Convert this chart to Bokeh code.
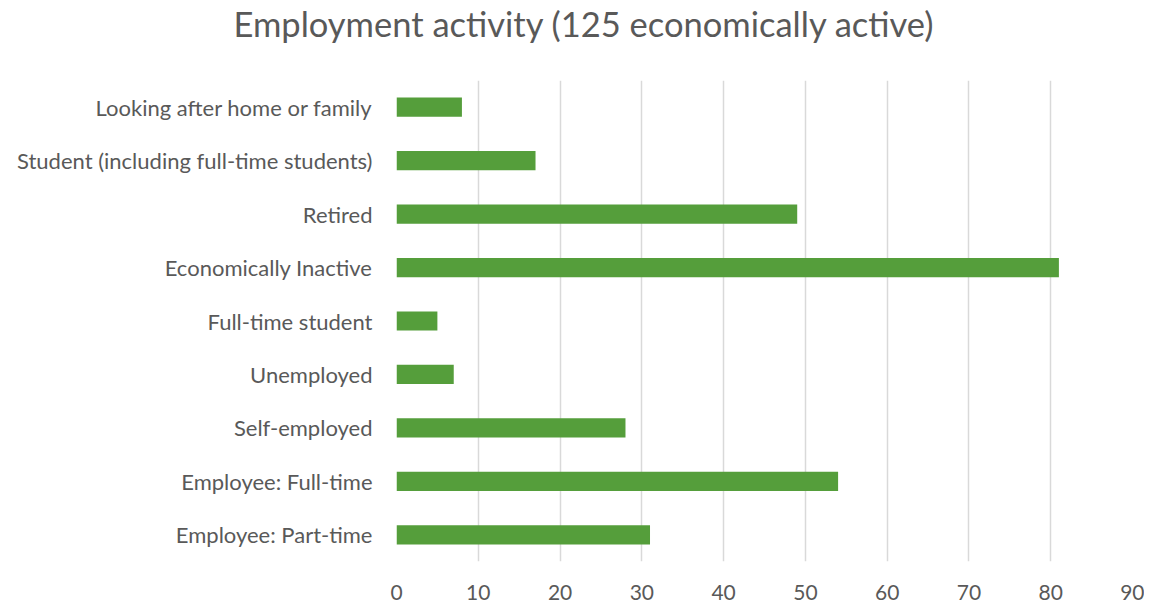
from bokeh.plotting import figure
from bokeh.models import FactorRange, Range1d, ColumnDataSource, FixedTicker, Title
from bokeh.embed import file_html
from bokeh.resources import INLINE

categories = ["Employee: Part-time", "Employee: Full-time", "Self-employed", "Unemployed",
              "Full-time student", "Economically Inactive", "Retired",
              "Student (including full-time students)", "Looking after home or family"]
values = [31, 54, 28, 7, 5, 81, 49, 17, 8]
x_ticks = [0, 10, 20, 30, 40, 50, 60, 70, 80, 90]
title_text = "Employment activity (125 economically active)"

src = ColumnDataSource(dict(cat=categories, val=values))

W, H = 1144, 602
LEFT, RIGHT, BOTTOM = 396, 12, 0

p = figure(width=W, height=H, output_backend="svg", toolbar_location=None,
           y_range=FactorRange(*categories, range_padding=0), x_range=Range1d(0, 90),
           title=title_text,
           min_border_left=LEFT, min_border_right=RIGHT, min_border_top=0, min_border_bottom=BOTTOM)

p.hbar(y="cat", right="val", left=0, height=0.36, source=src, color="#559E3B", line_color=None)

p.title.align = "left"
p.title.offset = -163
p.title.standoff = 0
p.title.text_font = "Lato"
p.title.text_font_size = "34.5px"
p.title.text_font_style = "normal"
p.title.text_color = "#595959"

# spacer between the title and the plot area
spacer = Title(text=" ", text_font_size="10px", standoff=24)
p.add_layout(spacer, "above")

p.outline_line_color = None
p.ygrid.grid_line_color = None
p.xgrid.grid_line_color = "#D9D9D9"
p.xgrid.grid_line_width = 1.5
p.xaxis.ticker = FixedTicker(ticks=x_ticks)

for ax in (p.xaxis[0], p.yaxis[0]):
    ax.axis_line_color = None
    ax.major_tick_line_color = None
    ax.minor_tick_line_color = None
    ax.major_label_text_font = "Lato"
    ax.major_label_text_color = "#595959"

p.yaxis.major_label_text_font_size = "22px"
p.xaxis.major_label_text_font_size = "21px"
p.xaxis.major_label_standoff = 17
p.yaxis.major_label_standoff = 18

open("out.html", "w").write(file_html(p, INLINE))
